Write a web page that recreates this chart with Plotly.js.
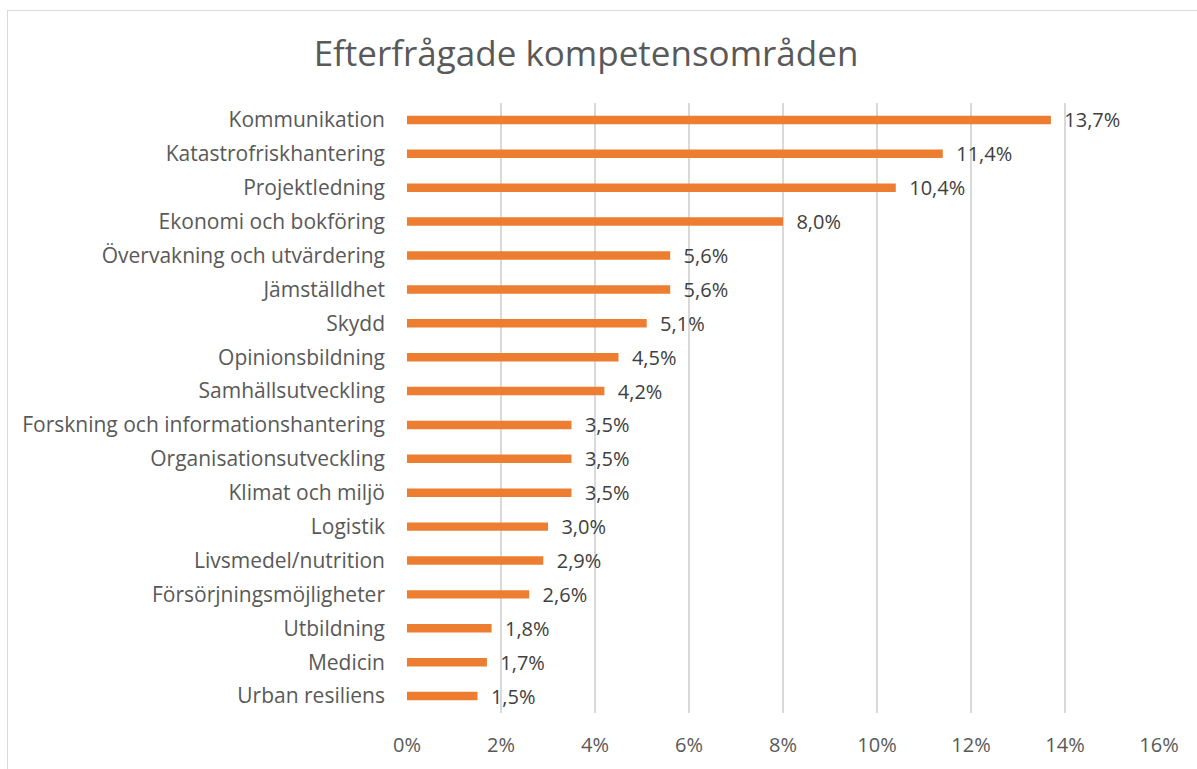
<!DOCTYPE html>
<html>
<head>
<meta charset="utf-8">
<script src="https://cdn.plot.ly/plotly-3.0.1.min.js"></script>
<style>
html,body{margin:0;padding:0;background:#fff;}
#wrap{position:relative;width:1197px;height:769px;overflow:hidden;}
#chart{position:absolute;left:0;top:0;width:1197px;height:769px;}
#frame{position:absolute;left:7px;top:10px;width:1200px;height:780px;border:1.5px solid #d9d9d9;pointer-events:none;box-sizing:border-box;}
</style>
</head>
<body>
<div id="wrap"><div id="chart"></div><div id="frame"></div></div>
<script>
const categories = [
  "Kommunikation",
  "Katastrofriskhantering",
  "Projektledning",
  "Ekonomi och bokföring",
  "Övervakning och utvärdering",
  "Jämställdhet",
  "Skydd",
  "Opinionsbildning",
  "Samhällsutveckling",
  "Forskning och informationshantering",
  "Organisationsutveckling",
  "Klimat och miljö",
  "Logistik",
  "Livsmedel/nutrition",
  "Försörjningsmöjligheter",
  "Utbildning",
  "Medicin",
  "Urban resiliens"
];
const values = [13.7, 11.4, 10.4, 8.0, 5.6, 5.6, 5.1, 4.5, 4.2, 3.5, 3.5, 3.5, 3.0, 2.9, 2.6, 1.8, 1.7, 1.5];
const tickValues = [0, 2, 4, 6, 8, 10, 12, 14, 16];
const tickLabels = tickValues.map(v => v + "%");
const labels = values.map(v => "  " + v.toFixed(1).replace(".", ",") + "%");

const font = "'Open Sans', Lato, sans-serif";

const trace = {
  type: "bar",
  orientation: "h",
  x: values,
  y: categories,
  marker: {color: "#ED7D31"},
  text: labels,
  textposition: "outside",
  constraintext: "none",
  textfont: {family: font, size: 20, color: "#404040"},
  cliponaxis: false,
  hoverinfo: "x+y"
};

const layout = {
  width: 1197,
  height: 769,
  margin: {l: 407, r: 38, t: 103, b: 56},
  paper_bgcolor: "rgba(0,0,0,0)",
  plot_bgcolor: "#fff",
  bargap: 0.75,
  showlegend: false,
  title: {
    text: "Efterfrågade kompetensområden",
    font: {family: font, size: 35, color: "#595959"},
    x: 586 / 1197, xref: "container", xanchor: "center",
    y: 1 - 54 / 769, yref: "container", yanchor: "middle"
  },
  xaxis: {
    range: [0, 16],
    tickvals: tickValues,
    ticktext: tickLabels,
    showgrid: true,
    gridcolor: "#d9d9d9",
    gridwidth: 1.5,
    zeroline: false,
    showline: false,
    ticks: "",
    ticklabelstandoff: 18,
    tickfont: {family: font, size: 20, color: "#595959"},
    fixedrange: true
  },
  yaxis: {
    autorange: "reversed",
    type: "category",
    showgrid: false,
    zeroline: false,
    showline: false,
    ticks: "",
    ticklabelstandoff: 21,
    tickfont: {family: font, size: 21, color: "#595959"},
    fixedrange: true
  }
};

Plotly.newPlot("chart", [trace], layout, {displayModeBar: false, staticPlot: true});
</script>
</body>
</html>
